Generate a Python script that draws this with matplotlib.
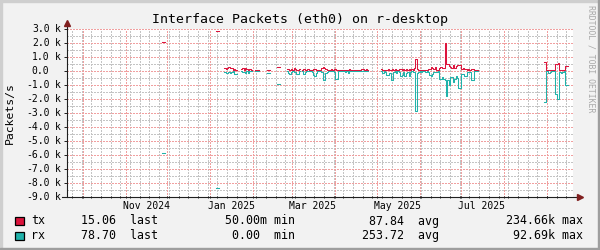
import numpy as np
import pandas as pd
import matplotlib
matplotlib.use("Agg")
import matplotlib.pyplot as plt
import matplotlib.transforms as mtransforms
from matplotlib.patches import Rectangle

plt.rcParams['font.family'] = ['DejaVu Sans Mono']

# daily averages in packets/s, tx up / rx down, everything else is unknown (gap)
seg_start = ["2024-11-27", "2025-01-05", "2025-01-11", "2025-01-23", "2025-02-02", "2025-02-11",
             "2025-02-18", "2025-02-25", "2025-03-08", "2025-04-04", "2025-04-19", "2025-05-04",
             "2025-08-30"]
tx_seg = [
    [2070, 2070],
    [2790, 2790],
    [150, 130, 200, 220, 200, 150, 60, 100, 30],
    [80, 150, 60, 180, 100, 50, 120, 40],
    [60, 40, 50],
    [30, 30],
    [260, 260],
    [80, 120, 60, 100, 40, 150, 90, 30, 70, 110],
    [40, 90, 50, 30, 80, 40,
     40, 60, 120, 100, 50, 30, 60, 40, 150, 240, 200, 80, 60, 30, 50, 80, 40, 120, 100, 60, 30],
    [40, 20, 60, 30, 50, 20, 40, 80, 30, 20, 20, 30, 10, 20],
    [30, 80, 100, 20, 120, 60],
    [120, 20, 40, 60, 30, 80, 40, 60, 100, 30, 120, 60, 30, 90, 120, 60, 140, 50, 80, 30,
     100, 40, 120, 60, 150,
     830,
     80, 40, 30, 60, 20, 50, 40, 30, 80, 120, 240, 200, 90, 240, 60, 40, 170, 240, 180, 200,
     1950, 450,
     430, 290, 240, 200, 360, 190, 300, 360, 400, 360, 120, 150, 120, 100, 60, 120, 50, 120,
     100, 30, 20, 10],
    [590, 30, 40, 20, 60, 30, 10, 20, 450, 480, 520, 40, 60, 30, 50, 290, 290],
]
rx_seg = [
    [-5860, -5860],
    [-8360, -8360],
    [-100, -170, -160, -120, -150, -90, -40, -230, -240],
    [-60, -130, -90, -150, -60, -200, -50, -20],
    [-10, -20, -10],
    [-160, -150],
    [-930, -930],
    [-60, -150, -240, -90, -60, -130, -80, -220, -240, -70],
    [-40, -240, -90, -50, -30, -60,
     -30, -120, -290, -360, -200, -40, -60, -30, -100, -710, -710, -150, -80, -40, -20, -60, -30,
     -90, -600, -600, -50],
    [-30, -60, -20, -40, -90, -30, -190, -60, -20, -40, -10, -20, -10, -10],
    [-20, -10, -30, -20, -40, -10],
    [-60, -190, -40, -120, -300, -350, -200, -710, -710, -100, -60, -200, -40, -80, -360, -300,
     -120, -360, -200, -100, -360, -80, -60, -100, -120,
     -2860,
     -150, -100, -60, -80, -40, -60, -100, -40, -120, -300, -360, -250, -120, -100, -80, -60,
     -600, -600, -450, -600,
     -700, -1790,
     -710, -1070, -480, -480, -830, -600, -360, -500, -1240, -1240, -240, -240, -360, -360,
     -120, -120, -80, -670, -670, -60, -40, -30],
    [-2260, -40, -60, -150, -100, -40, -20, -30, -1670, -2020, -2020, -100, -200, -120, -60,
     -1020, -1020],
]

x_labels = ["Nov 2024", "Jan 2025", "Mar 2025", "May 2025", "Jul 2025"]
stat_names = ["last", "min", "avg", "max"]
tx_stats = ["15.06 ", "50.00m", "87.84 ", "234.66k"]
rx_stats = ["78.70 ", "0.00 ", "253.72 ", "92.69k"]

tx_color = "#dc143c"
rx_color = "#20b2aa"
W, H = 600, 250

days = pd.date_range("2024-09-18", "2025-09-21", freq="D")
tx = pd.Series(np.nan, index=days)
rx = pd.Series(np.nan, index=days)
for start, tv, rv in zip(seg_start, tx_seg, rx_seg):
    idx = pd.date_range(start, periods=len(tv), freq="D")
    tx[idx] = tv
    rx[idx] = rv

fig = plt.figure(figsize=(6, 2.5), dpi=100, facecolor="#f2f2f2")
ax = fig.add_axes([67 / W, 1 - 196.5 / H, 506 / W, 168 / H])
ax.set_facecolor("white")
for s in ax.spines.values():
    s.set_visible(False)

x0 = pd.Timestamp("2024-09-19 10:48")
x1 = pd.Timestamp("2025-09-19 18:00")

# grid: weeks grey, months red, 500 grey, 1000 red (1px dots)
minor_c = "#c4c4c4"
major_c = "#f0a0a0"
dots = (0, (1.39, 1.39))
grid_kw = dict(lw=0.72, ls=dots, zorder=1, antialiased=False)
weeks = pd.date_range("2024-09-23", x1, freq="W-MON")
months = pd.date_range("2024-10-01", x1, freq="MS")
for d in weeks:
    ax.axvline(d, color=minor_c, **grid_kw)
for v in range(-9000, 3001, 500):
    ax.axhline(v, color=major_c if v % 1000 == 0 else minor_c, **grid_kw)
for d in months:
    ax.axvline(d, color=major_c, **grid_kw)

ax.plot(days, tx.values, drawstyle="steps-post", color=tx_color, lw=0.75, zorder=3)
ax.plot(days, rx.values, drawstyle="steps-post", color=rx_color, lw=0.75, zorder=3)

ax.set_xlim(x0, x1)
ax.set_ylim(-9000, 3000)

# x labels centred on the month
label_pos = [pd.to_datetime(l, format="%b %Y") + pd.Timedelta(days=15) for l in x_labels]
ax.set_xticks(label_pos)
ax.set_xticklabels(x_labels)
ax.tick_params(axis="x", which="major", length=0, pad=3.5, labelsize=7)
ax.set_xticks(list(weeks) + list(months), minor=True)
ax.tick_params(axis="x", which="minor", length=2, width=0.7, direction="inout", color="#1f1f1f")

yticks = np.arange(-9000, 3001, 1000)
ax.set_yticks(yticks)
ax.set_yticklabels([])
ax.tick_params(axis="y", length=2.5, width=0.7, direction="out", color="#1f1f1f")
num_tr = mtransforms.offset_copy(ax.get_yaxis_transform(), fig=fig, x=-17.5, y=0, units="dots")
unit_tr = mtransforms.offset_copy(ax.get_yaxis_transform(), fig=fig, x=-12.5, y=0, units="dots")
for v in yticks:
    ax.text(0, v, "%.1f" % (v / 1000), transform=num_tr, ha="right", va="center", fontsize=7)
    if v != 0:
        ax.text(0, v, "k", transform=unit_tr, ha="left", va="center", fontsize=7)

# axes with arrows
ax.plot([-5 / 506, 1.005], [0, 0], transform=ax.transAxes, color="#1f1f1f", lw=0.8,
        clip_on=False, zorder=4)
ax.plot([1.0135], [0], marker=">", ms=4, color="#801f1f", transform=ax.transAxes,
        clip_on=False, zorder=5)
ax.plot([0, 0], [0, 1.025], transform=ax.transAxes, color="#1f1f1f", lw=0.8,
        clip_on=False, zorder=4)
ax.plot([0], [1.032], marker="^", ms=4, color="#801f1f", transform=ax.transAxes,
        clip_on=False, zorder=5)

fig.text(0.5, 1 - 19.5 / H, "Interface Packets (eth0) on r-desktop", ha="center", va="center",
         fontsize=9.5)
fig.text(10 / W, 1 - 113 / H, "Packets/s", rotation=90, ha="center", va="center", fontsize=8.2)
fig.text(591.5 / W, 1 - 59 / H, "RRDTOOL / TOBI OETIKER", rotation=270, ha="center",
         va="center", fontsize=5.9, color="#a8a8a8")

# legend
col_end = [158.3, 295, 439.3, 583.3]
for row_y, name, color, stats in [(221, "tx", tx_color, tx_stats), (235.5, "rx", rx_color, rx_stats)]:
    fig.patches.append(Rectangle((15 / W, 1 - (row_y + 4) / H), 8.5 / W, 8 / H, transform=fig.transFigure,
                                 facecolor=color, edgecolor="black", lw=0.9))
    fig.text(31 / W, 1 - row_y / H, name, ha="left", va="center", fontsize=8.4)
    for s, n, xe in zip(stats, stat_names, col_end):
        fig.text(xe / W, 1 - row_y / H, s + " " + n, ha="right", va="center", fontsize=8.4)

# 3d-ish frame
fig.patches.append(Rectangle((0, 1 - 2 / H), 1, 2 / H, transform=fig.transFigure, color="#cfcfcf"))
fig.patches.append(Rectangle((0, 0), 2 / W, 1, transform=fig.transFigure, color="#cfcfcf"))
fig.patches.append(Rectangle((0, 0), 1, 2 / H, transform=fig.transFigure, color="#9e9e9e"))
fig.patches.append(Rectangle((1 - 2 / W, 0), 2 / W, 1, transform=fig.transFigure, color="#9e9e9e"))

fig.savefig("out.png", dpi=100, facecolor=fig.get_facecolor())
